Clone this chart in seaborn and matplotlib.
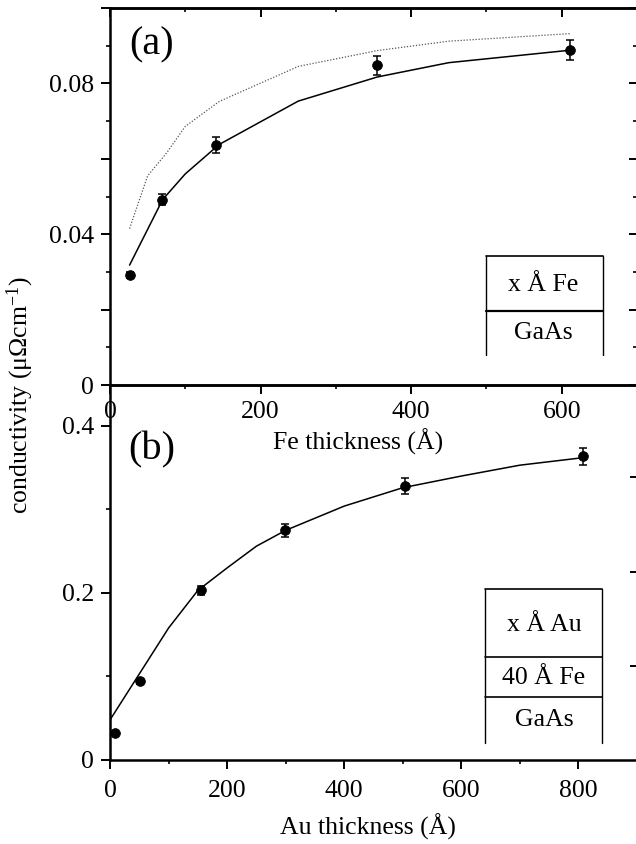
import numpy as np
import pandas as pd
import matplotlib
matplotlib.use("Agg")
import matplotlib.pyplot as plt
import seaborn as sns
from matplotlib.ticker import MultipleLocator, FixedLocator, NullFormatter
from matplotlib.lines import Line2D

# ---------------- data ----------------
# panel (a): x A Fe on GaAs
fe_thick = [26, 69, 141, 355, 611]
fe_cond = [0.0292, 0.0492, 0.0637, 0.0848, 0.0888]
fe_err = [0.0008, 0.0015, 0.0021, 0.0026, 0.0027]

fe_fit_x = [26, 70, 100, 145, 250, 355, 450, 611]
fe_fit_y = [0.0318, 0.0492, 0.0560, 0.0638, 0.0753, 0.0817, 0.0855, 0.0888]

fe_dot_x = [26, 50, 75, 100, 145, 250, 355, 450, 611]
fe_dot_y = [0.0415, 0.0555, 0.0615, 0.0686, 0.0752, 0.0845, 0.0887, 0.0912, 0.0932]

# panel (b): x A Au on 40 A Fe on GaAs
au_thick = [8.5, 52, 155, 299, 503, 808]
au_cond = [0.0328, 0.094, 0.203, 0.275, 0.328, 0.3634]
au_err = [0.002, 0.003, 0.0054, 0.008, 0.010, 0.0106]

au_fit_x = [0, 100, 150, 200, 250, 300, 400, 500, 600, 700, 808]
au_fit_y = [0.048, 0.158, 0.203, 0.230, 0.256, 0.275, 0.304, 0.326, 0.340, 0.353, 0.362]

a_yticks = [0, 0.02, 0.04, 0.06, 0.08, 0.10]
a_yticklabels = ["0", "", "0.04", "", "0.08", ""]
b_yticks = [0, 0.2, 0.4]
b_yticklabels = ["0", "0.2", "0.4"]
b_right_ticks = [0.112, 0.225, 0.339]

stack_a = ["x Å Fe", "GaAs"]
stack_b = ["x Å Au", "40 Å Fe", "GaAs"]

# ---------------- style ----------------
sns.set_theme(style="ticks")
plt.rcParams["font.family"] = ["Liberation Serif", "DejaVu Serif"]
plt.rcParams["mathtext.default"] = "regular"
plt.rcParams["axes.linewidth"] = 1.8
plt.rcParams["axes.edgecolor"] = "black"
plt.rcParams["axes.labelcolor"] = "black"
plt.rcParams["xtick.color"] = "black"
plt.rcParams["ytick.color"] = "black"
plt.rcParams["xtick.labelcolor"] = "black"
plt.rcParams["ytick.labelcolor"] = "black"
plt.rcParams["text.color"] = "black"

FS = 18.5
W, H = 636, 844
fig = plt.figure(figsize=(W / 100, H / 100), dpi=100)
fig.patch.set_facecolor("white")

# bottom panel first so the top panel's tick labels are drawn over it
ax2 = fig.add_axes([110 / W, 1 - 760 / H, 527 / W, 375 / H])
ax1 = fig.add_axes([110 / W, 1 - 385 / H, 527 / W, 377 / H])
ax1.patch.set_alpha(0)


def style_ticks(ax, xpad):
    ax.tick_params(axis="both", which="major", direction="out", length=6.5,
                   width=1.4, labelsize=FS, colors="black")
    ax.tick_params(axis="both", which="minor", direction="out", length=3.2,
                   width=1.2, colors="black")
    ax.tick_params(axis="y", which="major", pad=5)
    ax.tick_params(axis="x", which="major", pad=xpad)
    ax.tick_params(top=False, right=False, which="both")
    for s in ax.spines.values():
        s.set_visible(True)
        s.set_linewidth(1.8)
    ax.spines["right"].set_visible(False)


# ---------------- panel (a) ----------------
sns.lineplot(x=fe_dot_x, y=fe_dot_y, ax=ax1, color="#555555", lw=0.9,
             linestyle=(0, (1, 1.4)), estimator=None, sort=False)
sns.lineplot(x=fe_fit_x, y=fe_fit_y, ax=ax1, color="black", lw=1.1,
             estimator=None, sort=False)
ax1.errorbar(fe_thick, fe_cond, yerr=fe_err, fmt="none", ecolor="black",
             elinewidth=1.1, capsize=3.2, capthick=1.1)
sns.scatterplot(x=fe_thick, y=fe_cond, ax=ax1, color="black", s=50,
                edgecolor="black", linewidth=0.5, zorder=5)

ax1.set_xlim(0, 700)
ax1.set_ylim(0, 0.1)
ax1.xaxis.set_major_locator(MultipleLocator(200))
ax1.xaxis.set_minor_locator(MultipleLocator(100))
ax1.yaxis.set_major_locator(FixedLocator(a_yticks))
ax1.set_yticklabels(a_yticklabels)
ax1.yaxis.set_minor_locator(MultipleLocator(0.01))
style_ticks(ax1, 5)
ax1.set_xlabel("Fe thickness (Å)", fontsize=FS)
ax1.xaxis.set_label_coords((358 - 110) / 527, (385 - 442) / 377)
ax1.xaxis.label.set_va("center")
ax1.set_ylabel("")

sx = ax1.secondary_xaxis("top")
sx.xaxis.set_major_locator(MultipleLocator(200))
sx.xaxis.set_minor_locator(MultipleLocator(100))
sx.xaxis.set_major_formatter(NullFormatter())
sx.tick_params(which="major", direction="in", length=6.5, width=1.4)
sx.tick_params(which="minor", direction="in", length=3.2, width=1.2)

sy = ax1.secondary_yaxis("right")
sy.spines["right"].set_visible(False)
sy.yaxis.set_major_locator(MultipleLocator(0.02))
sy.yaxis.set_minor_locator(MultipleLocator(0.01))
sy.yaxis.set_major_formatter(NullFormatter())
sy.tick_params(which="major", direction="in", length=6, width=1.4)
sy.tick_params(which="minor", direction="in", length=3, width=1.2)

ax1.text((152 - 110) / 527, (385 - 45) / 377, "(a)", transform=ax1.transAxes,
         ha="center", va="center", fontsize=29)

# layer stack (a)
bx0, bx1 = (486 - 110) / 527, (603 - 110) / 527
ya_top, ya_div, ya_bot = (385 - 256) / 377, (385 - 311) / 377, (385 - 355) / 377
for xs, ys, lw in [([bx0, bx1], [ya_top, ya_top], 1.2),
                   ([bx0, bx1], [ya_div, ya_div], 1.6),
                   ([bx0, bx0], [ya_top, ya_bot], 1.0),
                   ([bx1, bx1], [ya_top, ya_bot], 1.0)]:
    ax1.add_line(Line2D(xs, ys, transform=ax1.transAxes, color="black", lw=lw))
xc = (543 - 110) / 527
ax1.text(xc, (385 - 285) / 377, stack_a[0], transform=ax1.transAxes,
         ha="center", va="center", fontsize=FS)
ax1.text(xc, (385 - 333) / 377, stack_a[1], transform=ax1.transAxes,
         ha="center", va="center", fontsize=FS)

# ---------------- panel (b) ----------------
sns.lineplot(x=au_fit_x, y=au_fit_y, ax=ax2, color="black", lw=1.1,
             estimator=None, sort=False)
ax2.errorbar(au_thick, au_cond, yerr=au_err, fmt="none", ecolor="black",
             elinewidth=1.1, capsize=3.2, capthick=1.1)
sns.scatterplot(x=au_thick, y=au_cond, ax=ax2, color="black", s=50,
                edgecolor="black", linewidth=0.5, zorder=5)

ax2.set_xlim(0, 900)
ax2.set_ylim(0, 0.449)
ax2.xaxis.set_major_locator(MultipleLocator(200))
ax2.xaxis.set_minor_locator(MultipleLocator(100))
ax2.yaxis.set_major_locator(FixedLocator(b_yticks))
ax2.set_yticklabels(b_yticklabels)
ax2.yaxis.set_minor_locator(MultipleLocator(0.1))
style_ticks(ax2, 8)
ax2.set_xlabel("Au thickness (Å)", fontsize=FS)
ax2.xaxis.set_label_coords((368 - 110) / 527, (760 - 827) / 375)
ax2.xaxis.label.set_va("center")
ax2.set_ylabel("")

sy2 = ax2.secondary_yaxis("right")
sy2.spines["right"].set_visible(False)
sy2.yaxis.set_major_locator(FixedLocator(b_right_ticks))
sy2.yaxis.set_major_formatter(NullFormatter())
sy2.tick_params(which="major", direction="in", length=5, width=1.4)
sy2.tick_params(which="minor", length=0)

ax2.text((152 - 110) / 527, (760 - 450) / 375, "(b)", transform=ax2.transAxes,
         ha="center", va="center", fontsize=29)

# layer stack (b)
cx0, cx1 = (485 - 110) / 527, (602 - 110) / 527
yb_top = (760 - 589) / 375
yb_d1 = (760 - 657) / 375
yb_d2 = (760 - 697) / 375
yb_bot = (760 - 743) / 375
for xs, ys, lw in [([cx0, cx1], [yb_top, yb_top], 1.2),
                   ([cx0, cx1], [yb_d1, yb_d1], 1.2),
                   ([cx0, cx1], [yb_d2, yb_d2], 1.2),
                   ([cx0, cx0], [yb_top, yb_bot], 1.0),
                   ([cx1, cx1], [yb_top, yb_bot], 1.0)]:
    ax2.add_line(Line2D(xs, ys, transform=ax2.transAxes, color="black", lw=lw))
xc2 = (544 - 110) / 527
for label, py in zip(stack_b, [625, 678, 720]):
    ax2.text(xc2, (760 - py) / 375, label, transform=ax2.transAxes,
             ha="center", va="center", fontsize=FS)

# shared y label
fig.text(20 / W, 1 - 395 / H, r"conductivity (μΩcm$^{\mathregular{-1}}$)",
         rotation=90, ha="center", va="center", fontsize=FS)

fig.savefig("out.png", dpi=100, facecolor="white")
